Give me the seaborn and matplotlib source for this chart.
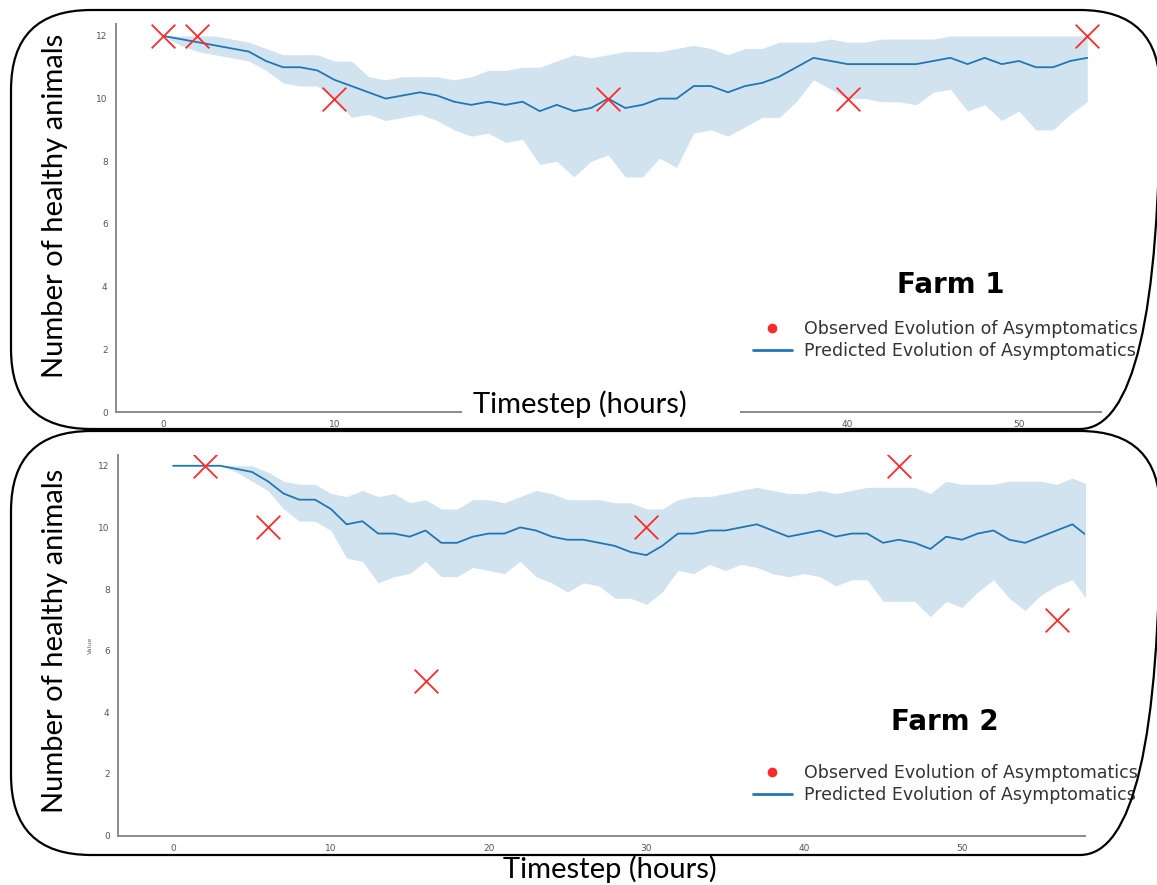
### Healthy animals per farm: observed vs predicted ###

import numpy as np
import pandas as pd
import matplotlib
matplotlib.use("Agg")
import matplotlib.pyplot as plt
from matplotlib import font_manager
from matplotlib.patches import FancyBboxPatch, Rectangle
from matplotlib.lines import Line2D
import seaborn as sns

# Farm 1 - predicted mean and band (hourly)
hours1 = list(range(55))
mean1 = [12.0, 11.9, 11.8, 11.7, 11.6, 11.5, 11.2, 11.0, 11.0, 10.9,
         10.6, 10.4, 10.2, 10.0, 10.1, 10.2, 10.1, 9.9, 9.8, 9.9,
         9.8, 9.9, 9.6, 9.8, 9.6, 9.7, 10.0, 9.7, 9.8, 10.0,
         10.0, 10.4, 10.4, 10.2, 10.4, 10.5, 10.7, 11.0, 11.3, 11.2,
         11.1, 11.1, 11.1, 11.1, 11.1, 11.2, 11.3, 11.1, 11.3, 11.1,
         11.2, 11.0, 11.0, 11.2, 11.3]
upper1 = [12.0, 12.0, 12.0, 12.0, 11.9, 11.8, 11.6, 11.4, 11.4, 11.4,
          11.2, 11.2, 10.7, 10.6, 10.7, 10.7, 10.7, 10.6, 10.7, 10.9,
          10.9, 11.0, 11.0, 11.2, 11.4, 11.3, 11.4, 11.5, 11.5, 11.5,
          11.6, 11.7, 11.6, 11.4, 11.6, 11.6, 11.8, 11.8, 11.8, 11.9,
          11.8, 11.8, 11.9, 11.9, 11.9, 11.9, 12.0, 12.0, 12.0, 12.0,
          12.0, 12.0, 12.0, 12.0, 12.0]
lower1 = [12.0, 11.7, 11.5, 11.4, 11.3, 11.2, 10.9, 10.5, 10.4, 10.4,
          10.0, 9.4, 9.5, 9.3, 9.4, 9.5, 9.3, 9.0, 8.8, 8.9,
          8.6, 8.7, 7.9, 8.0, 7.5, 8.0, 8.2, 7.5, 7.5, 8.1,
          7.8, 8.9, 9.0, 8.8, 9.1, 9.4, 9.4, 9.9, 10.6, 10.3,
          10.0, 10.0, 9.9, 9.9, 9.8, 10.2, 10.3, 9.6, 9.8, 9.3,
          9.6, 9.0, 9.0, 9.5, 9.9]
obs1_hours = [0, 2, 10, 26, 40, 54]
obs1_values = [12, 12, 10, 10, 10, 12]

# Farm 2
hours2 = list(range(59))
mean2 = [12.0, 12.0, 12.0, 12.0, 11.9, 11.8, 11.5, 11.1, 10.9, 10.9,
         10.6, 10.1, 10.2, 9.8, 9.8, 9.7, 9.9, 9.5, 9.5, 9.7,
         9.8, 9.8, 10.0, 9.9, 9.7, 9.6, 9.6, 9.5, 9.4, 9.2,
         9.1, 9.4, 9.8, 9.8, 9.9, 9.9, 10.0, 10.1, 9.9, 9.7,
         9.8, 9.9, 9.7, 9.8, 9.8, 9.5, 9.6, 9.5, 9.3, 9.7,
         9.6, 9.8, 9.9, 9.6, 9.5, 9.7, 9.9, 10.1, 9.7]
upper2 = [12.0, 12.0, 12.0, 12.0, 12.0, 12.0, 11.8, 11.5, 11.4, 11.4,
          11.1, 11.0, 11.2, 11.0, 11.1, 10.8, 10.9, 10.6, 10.6, 10.9,
          10.9, 10.8, 11.0, 11.2, 11.1, 10.9, 10.9, 10.9, 10.8, 10.8,
          10.6, 10.6, 10.9, 11.0, 11.0, 11.1, 11.2, 11.3, 11.2, 11.1,
          11.1, 11.2, 11.1, 11.2, 11.3, 11.3, 11.3, 11.3, 11.1, 11.5,
          11.4, 11.4, 11.4, 11.5, 11.5, 11.5, 11.4, 11.6, 11.4]
lower2 = [12.0, 12.0, 12.0, 12.0, 11.8, 11.5, 11.2, 10.6, 10.2, 10.2,
          9.9, 9.0, 8.9, 8.2, 8.4, 8.5, 8.9, 8.4, 8.4, 8.7,
          8.6, 8.5, 8.9, 8.4, 8.2, 7.9, 8.2, 8.1, 7.7, 7.7,
          7.5, 7.9, 8.6, 8.5, 8.8, 8.6, 8.8, 8.7, 8.5, 8.4,
          8.5, 8.4, 8.1, 8.3, 8.3, 7.6, 7.6, 7.6, 7.1, 7.6,
          7.4, 7.9, 8.3, 7.7, 7.3, 7.8, 8.1, 8.3, 7.6]
obs2_hours = [2, 6, 16, 30, 46, 56]
obs2_values = [12, 10, 5, 10, 12, 7]

farm_names = ["Farm 1", "Farm 2"]
legend_labels = ["Observed Evolution of Asymptomatics", "Predicted Evolution of Asymptomatics"]

sns.set_style("white")
plt.rcParams["font.family"] = ["DejaVu Sans"]

# narrower font for the big hand-added labels (pick what is installed)
installed = {f.name for f in font_manager.fontManager.ttflist}
big_font, big_size = "DejaVu Sans", 17.5
for name, size in [("Liberation Sans Narrow", 24), ("Lato", 21), ("Roboto", 20)]:
    if name in installed:
        big_font, big_size = name, size
        break

W, H = 1157, 885
fig = plt.figure(figsize=(W / 100, H / 100), dpi=100)

blue = "#1f77b4"
red = "#ff2a2a"


def px_axes(left, top, right, bottom):
    return fig.add_axes([left / W, 1 - bottom / H, (right - left) / W, (bottom - top) / H])


def draw_panel(ax, hours, mean, lower, upper, obs_t, obs_v, xlim, ylim):
    df = pd.DataFrame({"t": hours, "mean": mean, "lo": lower, "hi": upper})
    obs = pd.DataFrame({"t": obs_t, "v": obs_v})
    ax.fill_between(df["t"], df["lo"], df["hi"], color=blue, alpha=0.2, linewidth=0)
    sns.lineplot(data=df, x="t", y="mean", ax=ax, color=blue, linewidth=1.3)
    sns.scatterplot(data=obs, x="t", y="v", ax=ax, marker="x", color=red, s=290,
                    linewidth=1.3, zorder=5)
    ax.set_xlim(*xlim)
    ax.set_ylim(*ylim)
    ax.set_xticks([0, 10, 20, 30, 40, 50])
    ax.set_yticks([0, 2, 4, 6, 8, 10, 12])
    ax.set_xlabel("")
    ax.set_ylabel("")
    sns.despine(ax=ax)
    for s in ["left", "bottom"]:
        ax.spines[s].set_color("#8a8a8a")
        ax.spines[s].set_linewidth(1.4)
    ax.tick_params(labelsize=6.5, colors="#555555", length=3, width=0.8, pad=3)


def add_legend(ax, x, y):
    handles = [Line2D([], [], marker="o", linestyle="none", color=red, markersize=6),
               Line2D([], [], color=blue, linewidth=2)]
    ax.legend(handles, legend_labels, loc="upper left", bbox_to_anchor=(x / W, 1 - y / H),
              bbox_transform=fig.transFigure, frameon=False, fontsize=12.5,
              handlelength=2.25, handletextpad=0.7, labelspacing=0.24, borderpad=0,
              labelcolor="#333333")


ax1 = px_axes(116, 24, 1101, 412)
draw_panel(ax1, hours1, mean1, lower1, upper1, obs1_hours, obs1_values, (-2.76, 54.8), (0, 12.38))
add_legend(ax1, 744, 311)

ax2 = px_axes(118, 455, 1085, 835.5)
draw_panel(ax2, hours2, mean2, lower2, upper2, obs2_hours, obs2_values, (-3.49, 57.8), (0, 12.35))
add_legend(ax2, 744, 755)
ax2.set_ylabel("Value", fontsize=4.5, color="#666666", labelpad=4)

# overlay in pixel coordinates for the slide decorations
ov = fig.add_axes([0, 0, 1, 1], zorder=5)
ov.set_xlim(0, W)
ov.set_ylim(H, 0)
ov.axis("off")
ov.patch.set_alpha(0)

# white box hiding part of the first x axis
ov.add_patch(Rectangle((462, 386), 278, 44, facecolor="white", edgecolor="none"))

for y0, y1 in [(10, 429), (431, 855)]:
    ov.add_patch(FancyBboxPatch((11, y0), 1149, y1 - y0,
                                boxstyle="round,pad=0,rounding_size=80",
                                facecolor="none", edgecolor="black", linewidth=1.6,
                                clip_on=False))

for yc in [206, 641]:
    ov.text(55, yc, "Number of healthy animals", rotation=90, ha="center", va="center",
            fontsize=big_size, family=[big_font, "DejaVu Sans"], color="black")

ov.text(580, 404, "Timestep (hours)", ha="center", va="center",
        fontsize=big_size, family=[big_font, "DejaVu Sans"], color="black")
ov.text(610, 869, "Timestep (hours)", ha="center", va="center",
        fontsize=big_size, family=[big_font, "DejaVu Sans"], color="black")

ov.text(951, 285, farm_names[0], ha="center", va="center", fontsize=20,
        fontweight="bold", color="black")
ov.text(945, 722, farm_names[1], ha="center", va="center", fontsize=20,
        fontweight="bold", color="black")

fig.savefig("out.png", dpi=100)
